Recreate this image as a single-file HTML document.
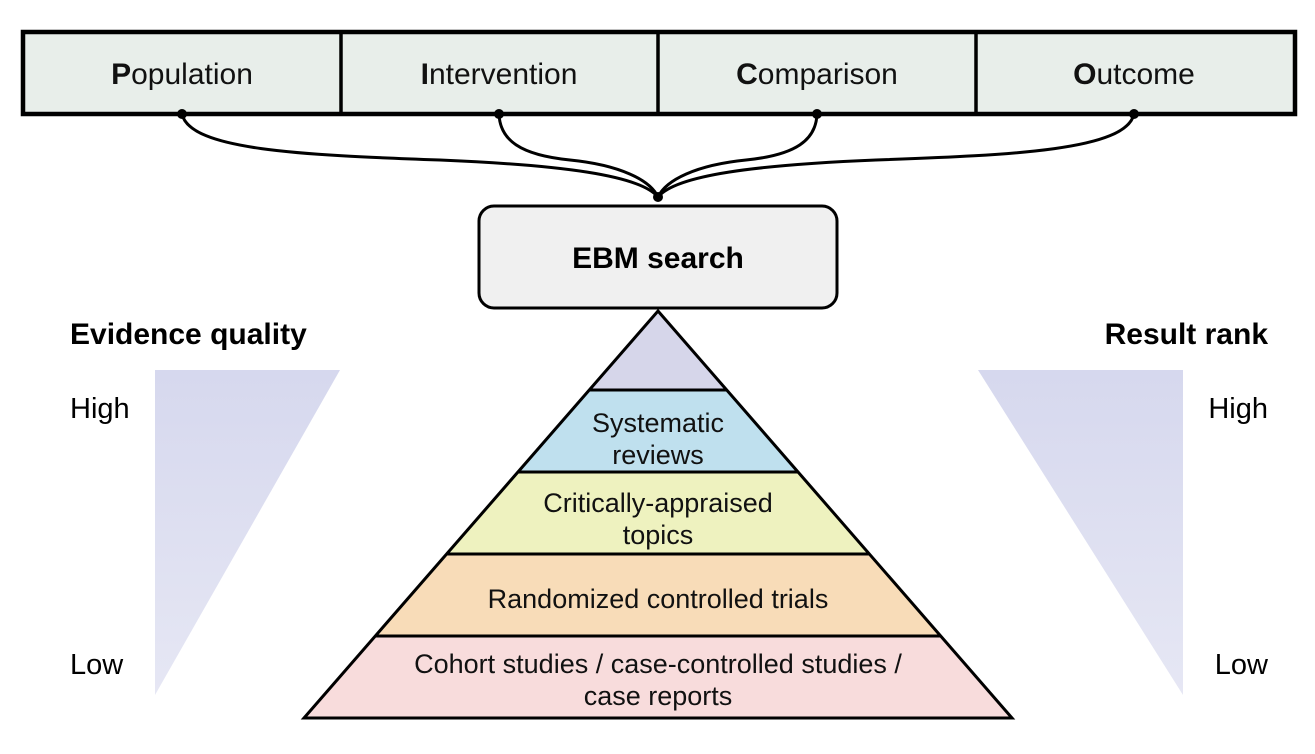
<!DOCTYPE html>
<html><head><style>
body{margin:0;background:#fff;}
svg text{font-family:"Liberation Sans",Arial,sans-serif;}
</style></head><body>
<svg width="1315" height="749" viewBox="0 0 1315 749" xmlns="http://www.w3.org/2000/svg">
<defs>
<linearGradient id="gl" x1="0" y1="0" x2="0" y2="1"><stop offset="0" stop-color="#d6d8ee"/><stop offset="1" stop-color="#e6e7f4"/></linearGradient>
</defs>
<rect x="23" y="32" width="1272" height="82" fill="#e8eeea" stroke="#000" stroke-width="4.5"/>
<line x1="341" y1="32" x2="341" y2="114" stroke="#000" stroke-width="3.5"/>
<line x1="658" y1="32" x2="658" y2="114" stroke="#000" stroke-width="3.5"/>
<line x1="976" y1="32" x2="976" y2="114" stroke="#000" stroke-width="3.5"/>
<g font-size="30" text-anchor="middle" fill="#111">
<text x="182" y="84"><tspan font-weight="bold">P</tspan>opulation</text>
<text x="499" y="84"><tspan font-weight="bold">I</tspan>ntervention</text>
<text x="817" y="84"><tspan font-weight="bold">C</tspan>omparison</text>
<text x="1134" y="84"><tspan font-weight="bold">O</tspan>utcome</text>
</g>
<g fill="none" stroke="#000" stroke-width="3">
<path d="M182,114 C190,150 300,155 440,160 C560,165 640,175 658,197"/>
<path d="M499,114 C500,140 520,155 570,160 C620,165 650,180 658,197"/>
<path d="M817,114 C816,140 796,155 746,160 C696,165 666,180 658,197"/>
<path d="M1134,114 C1126,150 1016,155 876,160 C756,165 676,175 658,197"/>
</g>
<g fill="#000"><circle cx="182" cy="114" r="5"/><circle cx="499" cy="114" r="5"/><circle cx="817" cy="114" r="5"/><circle cx="1134" cy="114" r="5"/><circle cx="658" cy="197" r="5"/></g>
<rect x="479" y="206" width="358" height="102" rx="15" fill="#f0f0f0" stroke="#000" stroke-width="3"/>
<text x="658" y="268" font-size="30" font-weight="bold" text-anchor="middle">EBM search</text>
<polygon points="155,370 340,370 155,695" fill="url(#gl)"/>
<polygon points="1183,370 978,370 1183,695" fill="url(#gl)"/>
<text x="70" y="344" font-size="30" font-weight="bold">Evidence quality</text>
<text x="1268" y="344" font-size="30" font-weight="bold" text-anchor="end">Result rank</text>
<text x="70" y="418" font-size="29">High</text>
<text x="70" y="674" font-size="29">Low</text>
<text x="1268" y="418" font-size="29" text-anchor="end">High</text>
<text x="1268" y="674" font-size="29" text-anchor="end">Low</text>
<polygon points="658,311 727,390 589,390" fill="#d6d6ea"/>
<polygon points="589,390 727,390 798,472 518,472" fill="#bfe0ee"/>
<polygon points="518,472 798,472 869,554 447,554" fill="#eef2bf"/>
<polygon points="447,554 869,554 941,636 375,636" fill="#f8dcb8"/>
<polygon points="375,636 941,636 1012,718 304,718" fill="#f8dcdc"/>
<g stroke="#000" stroke-width="3" fill="none">
<polygon points="658,311 1012,718 304,718"/>
<line x1="589" y1="390" x2="727" y2="390"/>
<line x1="518" y1="472" x2="798" y2="472"/>
<line x1="447" y1="554" x2="869" y2="554"/>
<line x1="375" y1="636" x2="941" y2="636"/>
</g>
<g font-size="27" text-anchor="middle" fill="#111">
<text x="658" y="432">Systematic</text><text x="658" y="464">reviews</text>
<text x="658" y="512">Critically-appraised</text><text x="658" y="544">topics</text>
<text x="658" y="608">Randomized controlled trials</text>
<text x="658" y="673">Cohort studies / case-controlled studies /</text><text x="658" y="705">case reports</text>
</g>
</svg>
</body></html>
